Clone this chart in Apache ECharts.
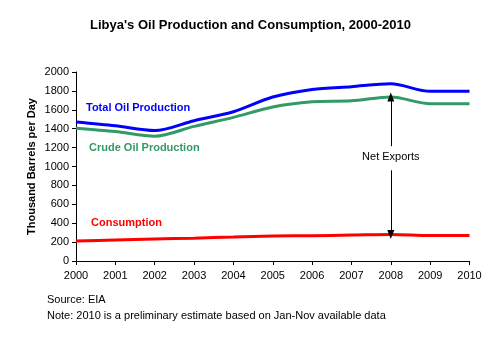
<!DOCTYPE html>
<html>
<head>
<meta charset="utf-8">
<script src="https://cdn.jsdelivr.net/npm/echarts@6/dist/echarts.min.js"></script>
<style>
  html, body { margin: 0; padding: 0; background: #fff; }
  #chart { width: 501px; height: 344px; }
</style>
</head>
<body>
<div id="chart"></div>
<script>
// Libya oil production and consumption, thousand barrels per day
const years = ['2000', '2001', '2002', '2003', '2004', '2005', '2006', '2007', '2008', '2009', '2010'];
const totalProduction = [1470, 1430, 1380, 1485, 1580, 1735, 1815, 1845, 1875, 1795, 1795];
const crudeProduction = [1405, 1370, 1320, 1425, 1520, 1630, 1685, 1695, 1735, 1665, 1665];
const consumption = [212, 222, 232, 242, 253, 264, 268, 274, 281, 270, 270];
const yTicks = [0, 200, 400, 600, 800, 1000, 1200, 1400, 1600, 1800, 2000];

const FONT = '"Liberation Sans", Arial, sans-serif';

// Net exports in 2008: arrows span from the consumption line to the crude line
const exportYear = '2008';
const exportIdx = years.indexOf(exportYear);

const chart = echarts.init(document.getElementById('chart'), null, { renderer: 'canvas' });

chart.setOption({
  animation: false,
  backgroundColor: '#ffffff',
  title: {
    text: "Libya's Oil Production and Consumption, 2000-2010",
    left: 'center',
    top: 14,
    textStyle: { fontFamily: FONT, fontSize: 13, fontWeight: 'bold', color: '#000' }
  },
  grid: { left: 76, right: 31.5, top: 72, bottom: 83 },
  xAxis: {
    type: 'category',
    data: years,
    boundaryGap: false,
    axisLine: { lineStyle: { color: '#000', width: 1 } },
    axisTick: { show: true, length: 4, lineStyle: { color: '#000' } },
    axisLabel: { color: '#000', fontFamily: FONT, fontSize: 11, margin: 9, interval: 0 },
    splitLine: { show: false }
  },
  yAxis: {
    type: 'value',
    min: yTicks[0],
    max: yTicks[yTicks.length - 1],
    interval: yTicks[1] - yTicks[0],
    name: 'Thousand Barrels per Day',
    nameLocation: 'middle',
    nameGap: 39,
    nameMoveOverlap: false,
    nameTextStyle: { fontFamily: FONT, fontSize: 11, fontWeight: 'bold', color: '#000' },
    axisLine: { show: true, lineStyle: { color: '#000', width: 1 } },
    axisTick: { show: true, length: 4, lineStyle: { color: '#000' } },
    axisLabel: { color: '#000', fontFamily: FONT, fontSize: 11, margin: 7, formatter: v => String(v) },
    splitLine: { show: false }
  },
  series: [
    {
      name: 'Total Oil Production',
      type: 'line',
      data: totalProduction,
      smooth: 0.3,
      symbol: 'none',
      lineStyle: { color: '#0000ff', width: 3 },
      z: 3
    },
    {
      name: 'Crude Oil Production',
      type: 'line',
      data: crudeProduction,
      smooth: 0.3,
      symbol: 'none',
      lineStyle: { color: '#339966', width: 3 },
      z: 2,
      markLine: {
        silent: true,
        symbol: ['none', 'triangle'],
        symbolSize: [7, 9],
        lineStyle: { color: '#000', width: 1, type: 'solid' },
        label: { show: false },
        data: [
          [
            { coord: [exportYear, 1215] },
            { coord: [exportYear, crudeProduction[exportIdx]] }
          ]
        ]
      },
      markPoint: {
        silent: true,
        symbol: 'circle',
        symbolSize: 0,
        label: {
          show: true,
          formatter: 'Net Exports',
          position: 'inside',
          color: '#000',
          fontFamily: FONT,
          fontSize: 11
        },
        data: [{ coord: [exportYear, 1100] }]
      }
    },
    {
      name: 'Consumption',
      type: 'line',
      data: consumption,
      smooth: 0.3,
      symbol: 'none',
      lineStyle: { color: '#ff0000', width: 3 },
      z: 2,
      markLine: {
        silent: true,
        symbol: ['none', 'triangle'],
        symbolSize: [7, 9],
        lineStyle: { color: '#000', width: 1, type: 'solid' },
        label: { show: false },
        data: [
          [
            { coord: [exportYear, 960] },
            { coord: [exportYear, consumption[exportIdx]] }
          ]
        ]
      }
    }
  ],
  graphic: [
    {
      type: 'text', left: 86, top: 102,
      style: { text: 'Total Oil Production', fill: '#0000ff', font: 'bold 11px ' + FONT }
    },
    {
      type: 'text', left: 89, top: 142,
      style: { text: 'Crude Oil Production', fill: '#339966', font: 'bold 11px ' + FONT }
    },
    {
      type: 'text', left: 91, top: 217,
      style: { text: 'Consumption', fill: '#ff0000', font: 'bold 11px ' + FONT }
    },
    {
      type: 'text', left: 47, top: 294,
      style: { text: 'Source: EIA', fill: '#000', font: '11px ' + FONT }
    },
    {
      type: 'text', left: 47, top: 310,
      style: { text: 'Note: 2010 is a preliminary estimate based on Jan-Nov available data', fill: '#000', font: '11px ' + FONT }
    }
  ]
});
</script>
</body>
</html>
